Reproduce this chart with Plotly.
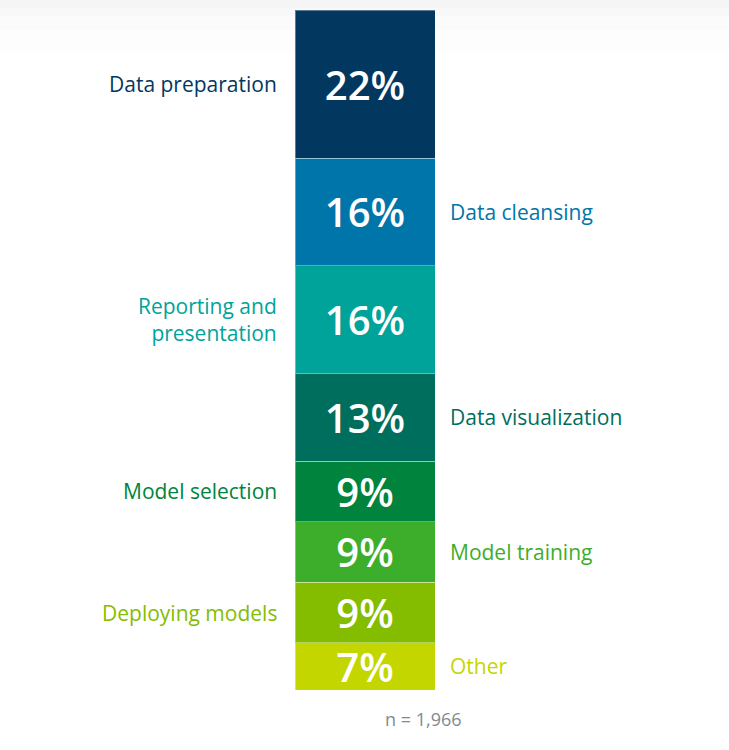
import plotly.graph_objects as go

# Share of time spent on each task (top of the column first)
tasks = ["Data preparation", "Data cleansing", "Reporting and<br>presentation",
         "Data visualization", "Model selection", "Model training",
         "Deploying models", "Other"]
shares = [22, 16, 16, 13, 9, 9, 9, 7]
colors = ["#02375f", "#0075aa", "#00a39a", "#006e5c",
          "#00843d", "#3dae2b", "#84bd00", "#c4d600"]
sample_note = "n = 1,966"

W, H = 729, 750
TOP, BOTTOM = 10, 60
BAR_LEFT, BAR_RIGHT = 295, 435
FONT = "Open Sans"

fig = go.Figure()

# stacked bars build upwards, so add from the bottom segment
for task, share, color in reversed(list(zip(tasks, shares, colors))):
    fig.add_trace(go.Bar(
        x=[0], y=[share], width=1,
        name=task,
        marker=dict(color=color, line=dict(color="rgba(255,255,255,0.35)", width=1)),
        text=[f"{share}%"],
        textposition="inside",
        insidetextanchor="middle",
        constraintext="none",
        textangle=0,
        textfont=dict(family=FONT, size=40, color="white", weight=600),
        hoverinfo="skip",
    ))

# category labels, alternating left / right of the column
total = sum(shares)
running = total
for i, (task, share, color) in enumerate(zip(tasks, shares, colors)):
    mid = running - share / 2
    running -= share
    left = (i % 2 == 0)
    fig.add_annotation(
        x=(BAR_LEFT - 16) / W if left else (BAR_RIGHT + 13) / W,
        xref="paper", y=mid, yref="y",
        text=task, showarrow=False,
        xanchor="right" if left else "left",
        align="right" if left else "left",
        font=dict(family=FONT, size=21, color=color),
    )

fig.add_annotation(
    x=423 / W, xref="paper", y=-29 / (H - TOP - BOTTOM), yref="paper",
    text=sample_note, showarrow=False, xanchor="center", yanchor="middle",
    font=dict(family=FONT, size=18, color="#808b8f"),
)

# faint grey fade at the very top of the page
fade = [(0, 8, "#f5f5f5"), (8, 16, "#f8f8f8"), (16, 30, "#fbfbfb"), (30, 52, "#fdfdfd")]
for y0, y1, c in fade:
    fig.add_shape(type="rect", xref="paper", yref="paper", layer="below",
                  x0=0, x1=1,
                  y0=1 + (TOP - y1) / (H - TOP - BOTTOM),
                  y1=1 + (TOP - y0) / (H - TOP - BOTTOM),
                  fillcolor=c, line=dict(width=0))

center = (BAR_LEFT + BAR_RIGHT) / 2
unit = BAR_RIGHT - BAR_LEFT
fig.update_layout(
    width=W, height=H,
    margin=dict(l=0, r=0, t=TOP, b=BOTTOM),
    barmode="stack",
    showlegend=False,
    plot_bgcolor="white",
    paper_bgcolor="white",
    xaxis=dict(range=[-center / unit, (W - center) / unit], visible=False, fixedrange=True),
    yaxis=dict(range=[0, total], visible=False, fixedrange=True),
)

# drop the default page margin so the figure sits at the window corner
fig.write_html("out.html", config={"displayModeBar": False},
               post_script="document.body.style.margin='0';")
